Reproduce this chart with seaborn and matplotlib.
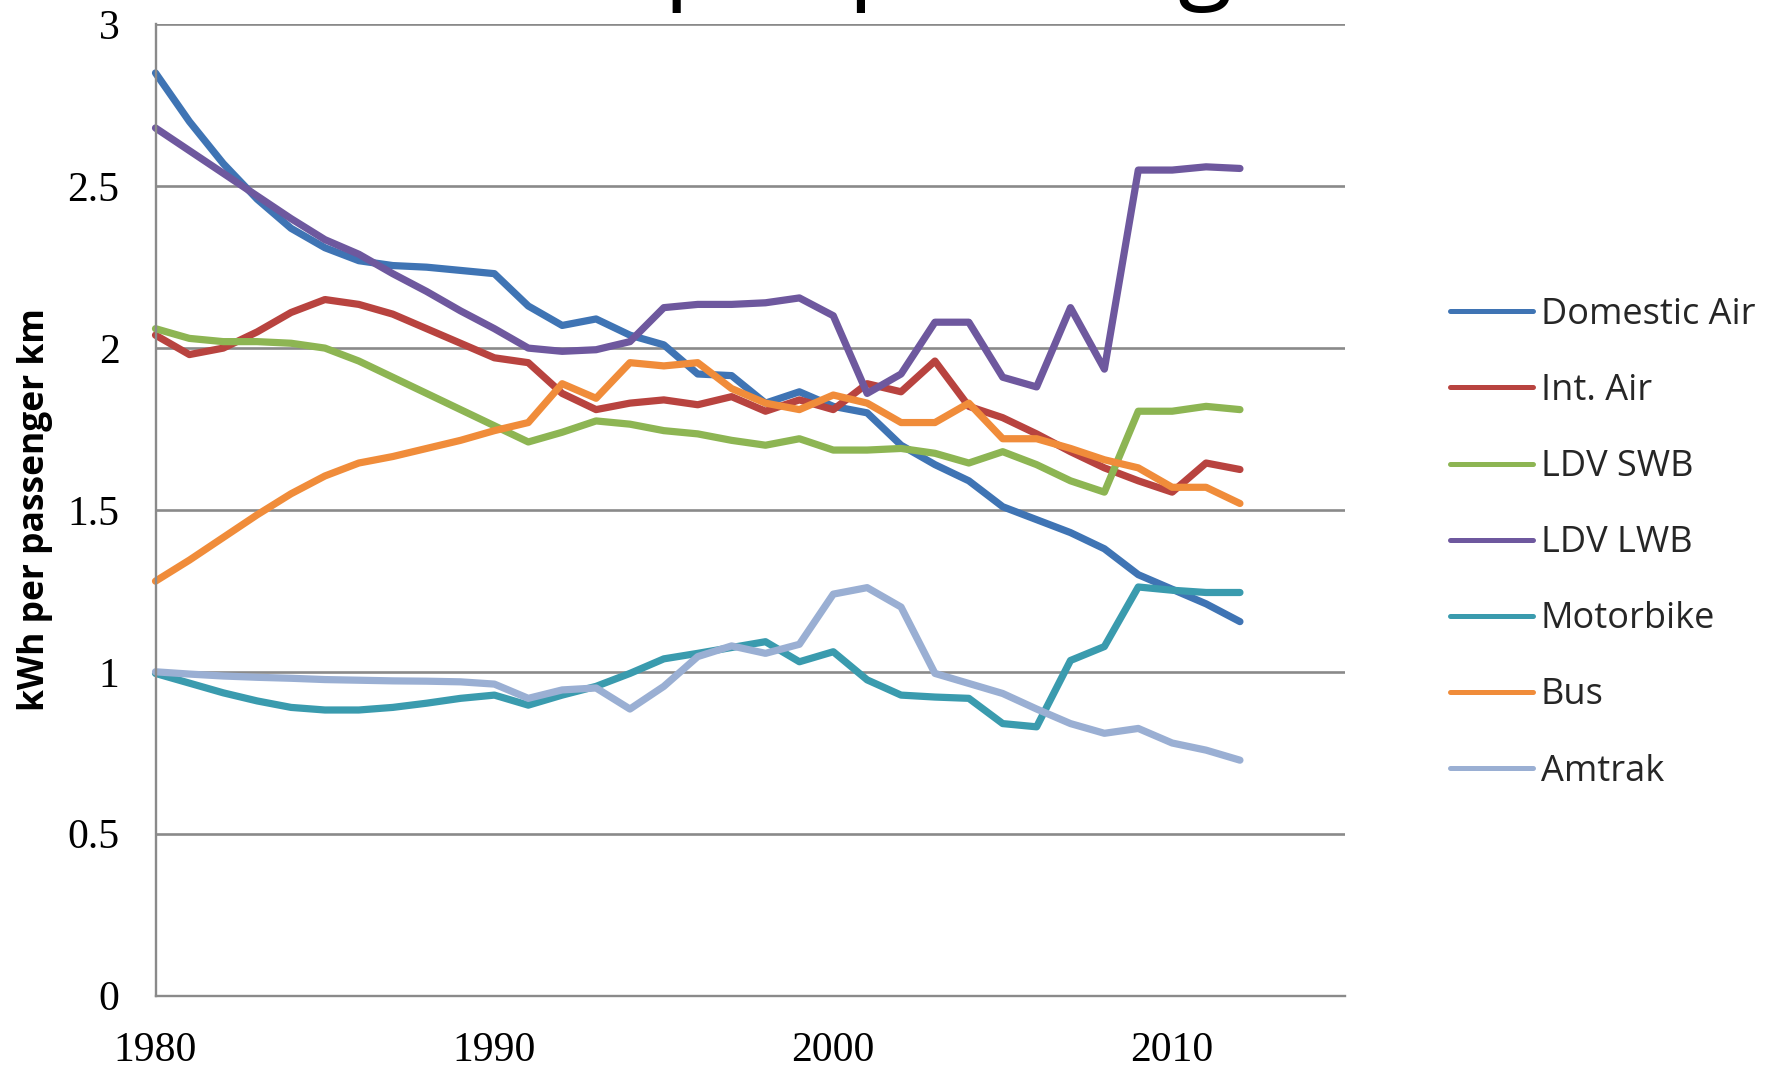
import pandas as pd
import seaborn as sns
import matplotlib.pyplot as plt
from matplotlib.lines import Line2D

# Energy intensity of US passenger transport, kWh per passenger km
years = list(range(1980, 2013))

domestic_air = [2.85, 2.70, 2.57, 2.46, 2.37, 2.31, 2.27, 2.255, 2.25, 2.24,
                2.23, 2.13, 2.07, 2.09, 2.04, 2.01, 1.92, 1.915, 1.83, 1.865,
                1.82, 1.80, 1.70, 1.64, 1.59, 1.51, 1.47, 1.43, 1.38, 1.30,
                1.255, 1.21, 1.155]
int_air = [2.04, 1.98, 2.00, 2.05, 2.11, 2.15, 2.135, 2.105, 2.06, 2.015,
           1.97, 1.955, 1.86, 1.81, 1.83, 1.84, 1.825, 1.85, 1.805, 1.84,
           1.81, 1.89, 1.865, 1.96, 1.82, 1.785, 1.735, 1.68, 1.63, 1.59,
           1.555, 1.645, 1.625]
ldv_swb = [2.06, 2.03, 2.02, 2.02, 2.015, 2.00, 1.96, 1.91, 1.86, 1.81,
           1.76, 1.71, 1.74, 1.775, 1.765, 1.745, 1.735, 1.715, 1.70, 1.72,
           1.685, 1.685, 1.69, 1.675, 1.645, 1.68, 1.64, 1.59, 1.555, 1.805,
           1.805, 1.82, 1.81]
ldv_lwb = [2.68, 2.61, 2.54, 2.47, 2.40, 2.335, 2.29, 2.23, 2.175, 2.115,
           2.06, 2.00, 1.99, 1.995, 2.02, 2.125, 2.135, 2.135, 2.14, 2.155,
           2.10, 1.86, 1.92, 2.08, 2.08, 1.91, 1.88, 2.125, 1.935, 2.55,
           2.55, 2.56, 2.555]
motorbike = [0.995, 0.965, 0.935, 0.91, 0.89, 0.882, 0.882, 0.89, 0.903, 0.918,
             0.928, 0.897, 0.928, 0.955, 0.995, 1.04, 1.057, 1.075, 1.093, 1.031,
             1.062, 0.975, 0.928, 0.922, 0.918, 0.84, 0.83, 1.035, 1.078, 1.262,
             1.252, 1.245, 1.245]
bus = [1.28, 1.345, 1.415, 1.485, 1.55, 1.605, 1.645, 1.665, 1.69, 1.715,
       1.745, 1.77, 1.89, 1.845, 1.955, 1.945, 1.955, 1.875, 1.83, 1.81,
       1.855, 1.83, 1.77, 1.77, 1.83, 1.72, 1.72, 1.69, 1.655, 1.63,
       1.57, 1.57, 1.52]
amtrak = [1.00, 0.993, 0.987, 0.983, 0.98, 0.976, 0.974, 0.972, 0.971, 0.969,
          0.962, 0.918, 0.944, 0.95, 0.885, 0.955, 1.047, 1.08, 1.057, 1.085,
          1.24, 1.26, 1.20, 0.995, 0.964, 0.933, 0.885, 0.84, 0.81, 0.825,
          0.78, 0.758, 0.727]

series_names = ["Domestic Air", "Int. Air", "LDV SWB", "LDV LWB",
                "Motorbike", "Bus", "Amtrak"]
series_values = [domestic_air, int_air, ldv_swb, ldv_lwb, motorbike, bus, amtrak]
series_colors = ["#3F74B4", "#B8433F", "#8DB553", "#6E589E",
                 "#3A9BAE", "#F08C3A", "#9AAFD3"]

x_ticks = [1980, 1990, 2000, 2010]
x_tick_labels = ["1980", "1990", "2000", "2010"]
y_ticks = [0, 0.5, 1, 1.5, 2, 2.5, 3]
y_tick_labels = ["0", "0.5", "1", "1.5", "2", "2.5", "3"]

title_text = "kWh per passenger km"
y_label = "kWh per passenger km"

# long-form table for seaborn
df = pd.DataFrame({
    "Year": [y for _ in series_names for y in years],
    "kWh": [v for vals in series_values for v in vals],
    "Mode": [name for name in series_names for _ in years],
})

sns.set_style("white")
plt.rcParams["font.family"] = ["Open Sans", "DejaVu Sans"]

W, H = 1780, 1068
fig = plt.figure(figsize=(W / 100, H / 100), dpi=100)
ax_left, ax_right, ax_top, ax_bottom = 155.5, 1345, 24.4, 995.5
ax = fig.add_axes([ax_left / W, 1 - ax_bottom / H,
                   (ax_right - ax_left) / W, (ax_bottom - ax_top) / H])

palette = dict(zip(series_names, series_colors))
sns.lineplot(data=df, x="Year", y="kWh", hue="Mode", hue_order=series_names,
             palette=palette, linewidth=5.2, estimator=None, sort=False,
             legend=False, ax=ax)
for ln in ax.lines:
    ln.set_solid_capstyle("round")
    ln.set_solid_joinstyle("round")
    ln.set_clip_on(False)

grid_color = "#8A8A8A"
ax.set_xlim(1980, 2015.1)
ax.set_ylim(0, 3)
ax.set_xticks(x_ticks, x_tick_labels)
ax.set_yticks(y_ticks, y_tick_labels)
ax.tick_params(axis="both", direction="out", length=10, width=1.3,
               color=grid_color, pad=16, labelcolor="black")
for lab in ax.get_xticklabels() + ax.get_yticklabels():
    lab.set_fontfamily("Liberation Serif")
    lab.set_fontsize(30)

ax.yaxis.grid(True, color=grid_color, linewidth=1.9)
ax.xaxis.grid(False)
ax.set_axisbelow(True)
for side in ["top", "right"]:
    ax.spines[side].set_visible(False)
for side in ["left", "bottom"]:
    ax.spines[side].set_color(grid_color)
    ax.spines[side].set_linewidth(1.7)

ax.set_xlabel("")
ax.set_ylabel(y_label, fontsize=25.5, fontweight="bold", color="black")
ax.yaxis.label.set_va("center")
ax.yaxis.set_label_coords((35 - ax_left) / (ax_right - ax_left), 0.5)

# chart title sits mostly above the canvas edge
fig.text(432 / W, 1 + 11 / H, title_text, fontsize=72, ha="left",
         va="baseline", color="black")

handles = [Line2D([0], [0], color=c, linewidth=3.6, solid_capstyle="round")
           for c in series_colors]
fig.legend(handles, series_names, loc="upper left",
           bbox_to_anchor=(1450 / W, 1 - 297 / H), frameon=False,
           fontsize=26, handlelength=2.3, handletextpad=0.22,
           labelspacing=1.11, borderpad=0, borderaxespad=0)

fig.savefig("out.png", dpi=100)
